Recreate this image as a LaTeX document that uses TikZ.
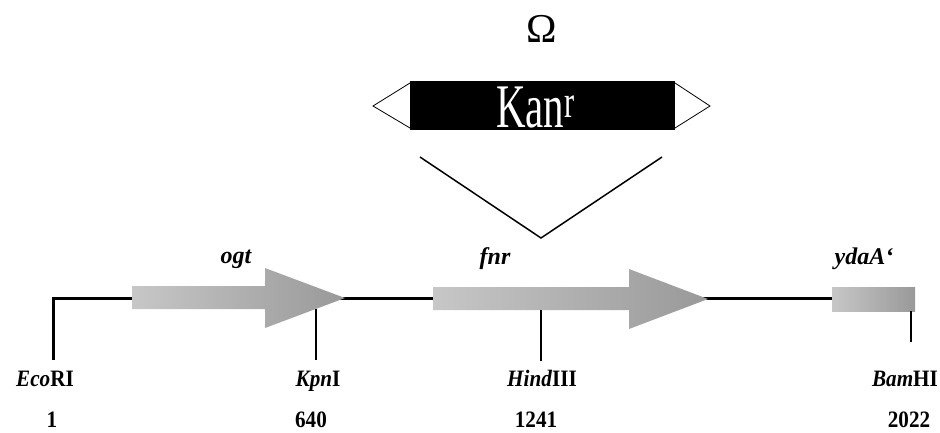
\documentclass[tikz,border=0pt]{standalone}
\usepackage{fontspec}
\setmainfont{Liberation Serif}
\newfontfamily\kanfont[FakeStretch=0.66]{Liberation Serif}
\newfontfamily\labfont[FakeStretch=0.9]{Liberation Serif}

\begin{document}
\begin{tikzpicture}[x=1pt,y=-1pt,
  backbone/.style={line width=3pt},
  sitetick/.style={line width=2pt},
  vline/.style={line width=1.5pt},
  genefill/.style={left color=black!22, right color=black!40},
  sitelab/.style={font=\labfont\fontsize{23.5}{23.5}\selectfont\bfseries, anchor=base, inner sep=0pt},
  genelab/.style={font=\fontsize{24}{24}\selectfont\bfseries\itshape, anchor=base, inner sep=0pt},
  flank/.style={draw=black, fill=white, line width=0.8pt, line join=miter}]
\useasboundingbox (0,0) rectangle (940,432);

% backbone and EcoRI end
\coordinate (ecoB) at (53,360);
\coordinate (ecoT) at (53,298);
\coordinate (ydaL) at (832,298);
\draw[backbone, line join=miter] (ecoB) -- (ecoT) -- (ydaL);

% genes
\shade[genefill] (132,286) -- (265,286) -- (265,268) -- (345,298) -- (265,328) -- (265,309) -- (132,309) -- cycle;
\shade[genefill] (433,287) -- (629,287) -- (629,269) -- (708,299) -- (629,329) -- (629,310) -- (433,310) -- cycle;
\shade[genefill] (832,287) rectangle (915,311);

\node[genelab] (ogt) at (236,263) {ogt};
\node[genelab] (fnr) at (495,264) {fnr};
\node[genelab] (yda) at (864,264) {ydaA‘};

% restriction sites
\coordinate (kpnT) at (316,309);
\coordinate (kpnB) at (316,360);
\coordinate (hindT) at (541,310);
\coordinate (hindB) at (541,361);
\coordinate (bamT) at (911,311);
\coordinate (bamB) at (911,342);
\draw[sitetick] (kpnT) -- (kpnB);
\draw[sitetick] (hindT) -- (hindB);
\draw[sitetick] (bamT) -- (bamB);

\node[sitelab] (eco) at (45,386) {\textit{Eco}RI};
\node[sitelab] (kpn) at (318,386) {\textit{Kpn}I};
\node[sitelab] (hind) at (542,386) {\textit{Hind}III};
\node[sitelab] (bam) at (905,386) {\textit{Bam}HI};

\node[sitelab] (n1) at (52,427) {1};
\node[sitelab] (n640) at (311,427) {640};
\node[sitelab] (n1241) at (536,427) {1241};
\node[sitelab] (n2022) at (909,427) {2022};

% insertion point
\coordinate (vl) at (420,157);
\coordinate (vm) at (541,238);
\coordinate (vr) at (662,157);
\draw[vline] (vl) -- (vm) -- (vr);

% Omega cassette
\draw[flank] (410,83) -- (373,106) -- (410,128);
\draw[flank] (675,83) -- (710,106) -- (675,128);
\node[fill=black, minimum width=265, minimum height=49, inner sep=0pt] (kan) at (542.5,105.5) {};
\node[anchor=base west, inner sep=0pt, text=white] (kantext) at (496,127)
  {\kanfont\fontsize{62}{62}\selectfont Kan\raisebox{10pt}{\fontsize{46}{46}\selectfont r}};
\node[anchor=base, inner sep=0pt, font=\fontsize{41}{41}\selectfont] (omega) at (542,42) {Ω};
\end{tikzpicture}
\end{document}
